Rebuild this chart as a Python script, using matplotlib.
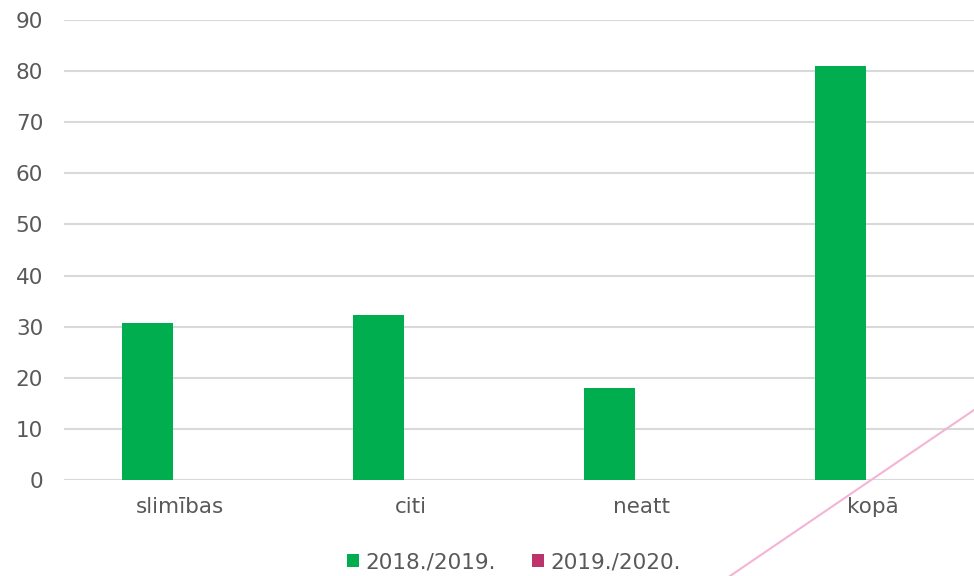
import matplotlib; matplotlib.use("Agg")
import matplotlib.pyplot as plt
import numpy as np
from matplotlib.lines import Line2D

plt.rcParams.update({"font.family": "DejaVu Sans"})

categories = ["slimības", "citi", "neatt", "kopā"]
series_names = ["2018./2019.", "2019./2020."]
vals_2018 = [30.7, 32.3, 18.0, 81.0]
vals_2019 = [0, 0, 0, 0]
yticks = [0, 10, 20, 30, 40, 50, 60, 70, 80, 90]

GREEN = "#00AE4F"; MAGENTA = "#BF336D"; GRID = "#D9D9D9"; TXT = "#595959"

W, H = 974, 576
fig = plt.figure(figsize=(W/100, H/100), dpi=100)
# plot area runs past the right edge, as in the source
ax = fig.add_axes([64/W, 96/H, 924/W, 460/H])

x = np.arange(len(categories))
bw = 0.225
off = 0.1385
ax.bar(x - off, vals_2018, bw, color=GREEN, label=series_names[0], zorder=3)
ax.bar(x + off, vals_2019, bw, color=MAGENTA, label=series_names[1], zorder=3)

ax.set_xlim(-0.5, len(categories) - 0.5)
ax.set_ylim(0, 90)
ax.set_yticks(yticks)
ax.yaxis.grid(True, color=GRID, lw=1.5, zorder=0)
ax.set_axisbelow(True)
for s in ax.spines.values():
    s.set_visible(False)
ax.tick_params(axis="both", length=0, colors=TXT, labelsize=15.5)
ax.tick_params(axis="y", pad=15)
ax.tick_params(axis="x", pad=12)
ax.set_xticks(x)
ax.set_xticklabels(categories)

ax.legend(loc="center", bbox_to_anchor=(514/W, (H-562)/H), bbox_transform=fig.transFigure,
          ncol=2, frameon=False, fontsize=15.5, labelcolor=TXT,
          handlelength=0.55, handleheight=0.55, handletextpad=0.28, columnspacing=1.7,
          borderpad=0, borderaxespad=0)

# stray pink line from the source screenshot
fig.add_artist(Line2D([730/W, 1.0], [0.0, (H-410)/H], transform=fig.transFigure,
                      color="#F4B4D4", lw=1.5))

fig.savefig("out.png", dpi=100)
